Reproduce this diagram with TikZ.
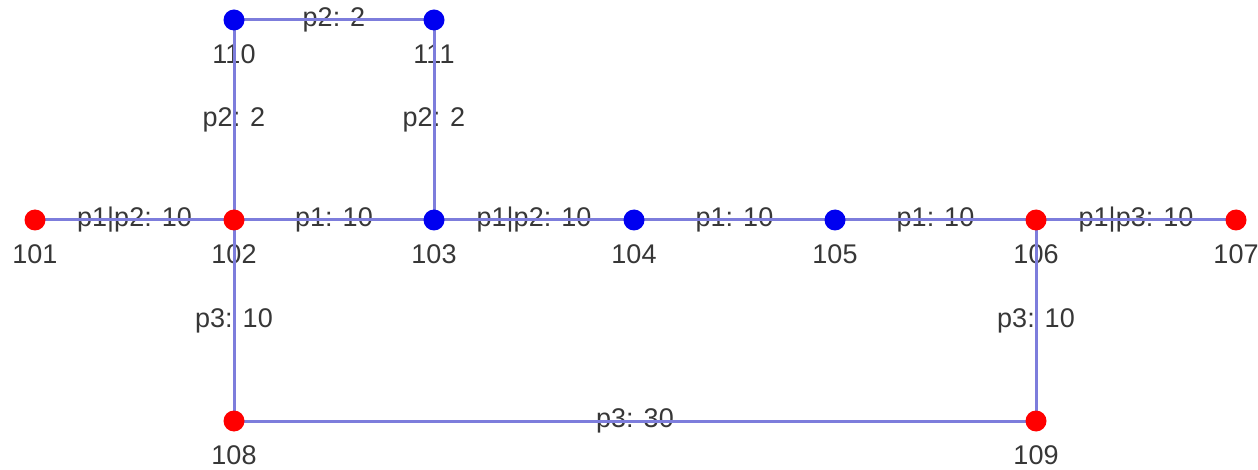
\documentclass[tikz,border=0pt]{standalone}
\usepackage{fontspec}
\setmainfont{Liberation Sans}
\definecolor{edgec}{RGB}{125,125,220}
\definecolor{txtc}{RGB}{55,55,55}
\definecolor{redn}{RGB}{255,0,0}
\definecolor{bluen}{RGB}{0,0,240}
\pgfdeclarelayer{labels}
\pgfdeclarelayer{edges}
\pgfsetlayers{labels,edges,main}
\tikzset{
  vtx/.style={circle,inner sep=0pt,minimum size=21pt},
  rv/.style={vtx,fill=redn},
  bv/.style={vtx,fill=bluen},
  lbl/.style={text=txtc,font=\fontsize{27}{31}\selectfont,inner sep=0pt},
  edg/.style={draw=edgec,line width=3pt},
}
\begin{document}
\begin{tikzpicture}[x=1pt,y=-1pt]
\useasboundingbox (0,0) rectangle (1258,470);
% vertices
\node[rv] (101) at (35,220) {};
\node[rv] (102) at (234,220) {};
\node[bv] (103) at (434,220) {};
\node[bv] (104) at (634,220) {};
\node[bv] (105) at (835,220) {};
\node[rv] (106) at (1036,220) {};
\node[rv] (107) at (1236,220) {};
\node[bv] (110) at (234,20) {};
\node[bv] (111) at (434,20) {};
\node[rv] (108) at (234,421) {};
\node[rv] (109) at (1036,421) {};
\begin{pgfonlayer}{labels}
\foreach \v in {101,102,103,104,105,106,107,110,111,108,109}
  \node[lbl] (t\v) at ([yshift=-34pt]\v) {\v};
\path (101) -- (102) node[lbl,midway] (e1) {p1|p2: 10};
\path (102) -- (103) node[lbl,midway] (e2) {p1: 10};
\path (103) -- (104) node[lbl,midway] (e3) {p1|p2: 10};
\path (104) -- (105) node[lbl,midway] (e4) {p1: 10};
\path (105) -- (106) node[lbl,midway] (e5) {p1: 10};
\path (106) -- (107) node[lbl,midway] (e6) {p1|p3: 10};
\path (110) -- (111) node[lbl,midway] (e7) {p2: 2};
\path (102) -- (110) node[lbl,midway] (e8) {p2: 2};
\path (103) -- (111) node[lbl,midway] (e9) {p2: 2};
\path (102) -- (108) node[lbl,midway] (e10) {p3: 10};
\path (106) -- (109) node[lbl,midway] (e11) {p3: 10};
\path (108) -- (109) node[lbl,midway] (e12) {p3: 30};
\end{pgfonlayer}
\begin{pgfonlayer}{edges}
\draw[edg] (101.center) -- (102.center);
\draw[edg] (102.center) -- (103.center);
\draw[edg] (103.center) -- (104.center);
\draw[edg] (104.center) -- (105.center);
\draw[edg] (105.center) -- (106.center);
\draw[edg] (106.center) -- (107.center);
\draw[edg] (110.center) -- (111.center);
\draw[edg] (102.center) -- (110.center);
\draw[edg] (103.center) -- (111.center);
\draw[edg] (102.center) -- (108.center);
\draw[edg] (106.center) -- (109.center);
\draw[edg] (108.center) -- (109.center);
\end{pgfonlayer}
\end{tikzpicture}
\end{document}
